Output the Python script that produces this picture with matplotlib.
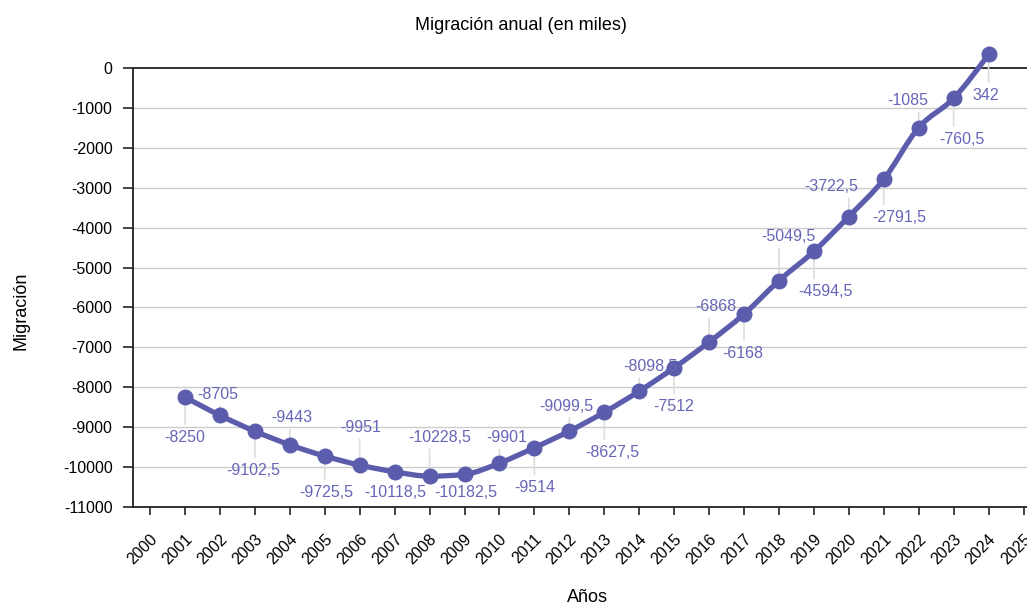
import numpy as np
import matplotlib
matplotlib.use("Agg")
import matplotlib.pyplot as plt
import matplotlib.transforms as mtransforms
from matplotlib.path import Path
from matplotlib.patches import PathPatch

plt.rcParams['font.family'] = ['Liberation Sans', 'DejaVu Sans']

# datos
anios = [2001, 2002, 2003, 2004, 2005, 2006, 2007, 2008, 2009, 2010, 2011, 2012,
         2013, 2014, 2015, 2016, 2017, 2018, 2019, 2020, 2021, 2022, 2023, 2024]
# posición de los puntos tal como se ven en el gráfico
migracion = [-8250, -8705, -9102.5, -9443, -9725.5, -9951, -10118.5, -10228.5,
             -10182.5, -9901, -9514, -9099.5, -8627.5, -8098.5, -7512, -6868,
             -6168, -5330, -4594.5, -3722.5, -2791.5, -1495, -760.5, 342]
# valores escritos en las etiquetas
etiquetas = [-8250, -8705, -9102.5, -9443, -9725.5, -9951, -10118.5, -10228.5,
             -10182.5, -9901, -9514, -9099.5, -8627.5, -8098.5, -7512, -6868,
             -6168, -5049.5, -4594.5, -3722.5, -2791.5, -1085, -760.5, 342]
anios_ticks = list(range(2000, 2026))
y_ticks = list(range(-11000, 1, 1000))

COLOR = '#5c5cad'
COLOR_TXT = '#6666b8'

# desplazamiento de cada etiqueta (px, hacia abajo positivo)
offsets = [(0, 40), (-2, -21), (-2, 39), (2, -27), (1, 36), (1, -38), (1, 21),
           (10, -39), (1, 18), (7, -26), (0, 40), (-3, -25), (8, 40), (11, -25),
           (-1, 39), (7, -36), (-1, 39), (9, -44), (12, 40), (-18, -30),
           (15, 38), (-11, -27), (8, 41), (-3, 41)]


def monotone_path(x, y):
    """curva monotona (tipo d3 curveMonotoneX) como path de Bezier"""
    x = np.asarray(x, float)
    y = np.asarray(y, float)
    n = len(x)
    h = np.diff(x)
    s = np.diff(y) / h
    t = np.zeros(n)
    for i in range(1, n - 1):
        p = (s[i - 1] * h[i] + s[i] * h[i - 1]) / (h[i - 1] + h[i])
        t[i] = (np.sign(s[i - 1]) + np.sign(s[i])) * min(abs(s[i - 1]), abs(s[i]), 0.5 * abs(p))
    t[0] = (3 * s[0] - t[1]) / 2
    t[-1] = (3 * s[-1] - t[-2]) / 2
    verts = [(x[0], y[0])]
    codes = [Path.MOVETO]
    for i in range(n - 1):
        d = h[i] / 3
        verts += [(x[i] + d, y[i] + d * t[i]), (x[i + 1] - d, y[i + 1] - d * t[i + 1]),
                  (x[i + 1], y[i + 1])]
        codes += [Path.CURVE4] * 3
    return Path(verts, codes)


fig = plt.figure(figsize=(10.27, 6.08), dpi=100)
ax = fig.add_axes([133 / 1027, 1 - 507 / 608, 1 - 133 / 1027, (507 - 40) / 608])
ax.set_xlim(1999.51, 2025.1)
ax.set_ylim(-11000, 700)

# rejilla
for v in y_ticks[:-1]:
    ax.axhline(v, color='#cccccc', lw=1, zorder=0)
ax.axhline(0, color='#222222', lw=1.3, zorder=1)

for s in ['top', 'right']:
    ax.spines[s].set_visible(False)
for s in ['left', 'bottom']:
    ax.spines[s].set_color('#222222')
    ax.spines[s].set_linewidth(1.3)
ax.spines['left'].set_bounds(-11000, 0)

ax.set_yticks(y_ticks)
ax.set_yticklabels([str(v) for v in y_ticks])
ax.set_xticks(anios_ticks)
ax.set_xticklabels([str(a) for a in anios_ticks], rotation=45, ha='right',
                   va='center', rotation_mode='anchor')
ax.tick_params(axis='y', length=7.2, width=1.2, pad=7.5, labelsize=11.5, colors='#222222')
ax.tick_params(axis='x', length=5.8, width=1.2, pad=15.5, labelsize=11.5, colors='#222222')
desp = mtransforms.ScaledTranslation(5 / 100, 0, fig.dpi_scale_trans)
for lbl in ax.get_xticklabels():
    lbl.set_transform(lbl.get_transform() + desp)
for lbl in ax.get_xticklabels() + ax.get_yticklabels():
    lbl.set_color('black')

# líneas guía y etiquetas
for x, y, val, (dx, dy) in zip(anios, migracion, etiquetas, offsets):
    guia = dy - 13 if dy > 0 else dy + 12
    ax.annotate('', xy=(x, y), xytext=(0, -guia), textcoords='offset pixels',
                arrowprops=dict(arrowstyle='-', color='#dddddd', lw=1.2,
                                shrinkA=0, shrinkB=0), zorder=2)
    txt = ('%g' % val).replace('.', ',')
    ax.annotate(txt, xy=(x, y), xytext=(dx, -dy), textcoords='offset pixels',
                ha='center', va='center', fontsize=11.5, color=COLOR_TXT, zorder=5)

ax.add_patch(PathPatch(monotone_path(anios, migracion), facecolor='none',
                       edgecolor=COLOR, lw=3.8, capstyle='round', joinstyle='round', zorder=3))
ax.plot(anios, migracion, 'o', color=COLOR, ms=10.5, zorder=4)

fig.text(521 / 1027, 1 - 25 / 608, 'Migración anual (en miles)', ha='center', va='center', fontsize=13)
fig.text(587 / 1027, 1 - 598 / 608, 'Años', ha='center', va='center', fontsize=13)
fig.text(21 / 1027, 1 - 311 / 608, 'Migración', ha='center', va='center', fontsize=13, rotation=90)

fig.savefig('out.png', dpi=100)
